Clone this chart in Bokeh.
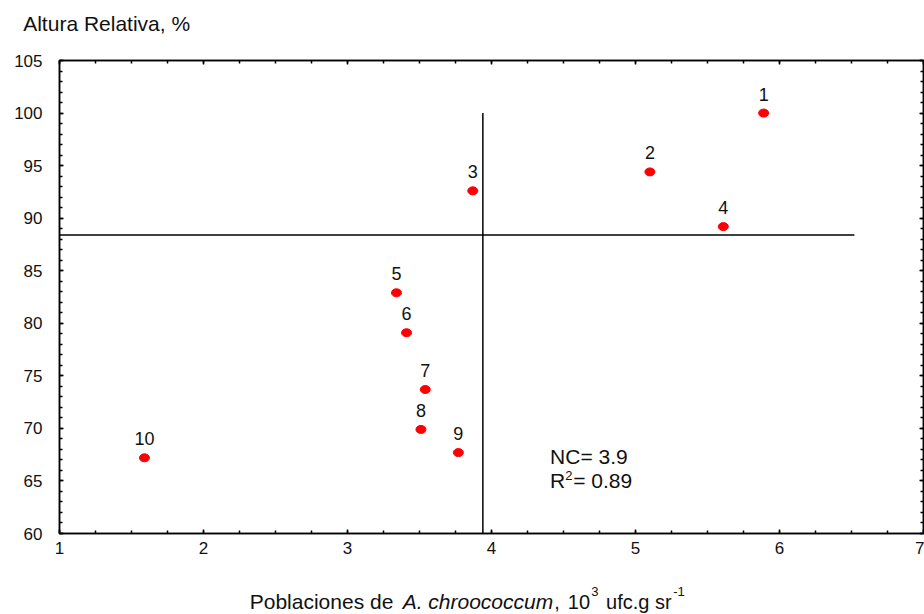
from bokeh.plotting import figure
from bokeh.layouts import column
from bokeh.models import LinearAxis, SingleIntervalTicker, Label, Range1d, ColumnDataSource
from bokeh.core.properties import value
from bokeh.embed import file_html
from bokeh.resources import INLINE

# ---- data ----
point_ids = ["1", "2", "3", "4", "5", "6", "7", "8", "9", "10"]
poblaciones = [5.89, 5.10, 3.87, 5.61, 3.34, 3.41, 3.54, 3.51, 3.77, 1.59]
altura = [100.0, 94.4, 92.6, 89.2, 82.9, 79.1, 73.7, 69.9, 67.7, 67.2]
nc_value = 3.94          # critical level (vertical line)
nc_line_top = 100.0
h_line_y = 88.4          # horizontal reference line
h_line_x_end = 6.52
x_range_vals = (1, 7)
y_range_vals = (60, 105)
y_title = "Altura Relativa, %"
nc_text = "NC= 3.9"
r2_text = "= 0.89"

FONT = "Liberation Sans"
TXT = "#111111"
W = 924
H_TOP, H_MAIN, H_BOT = 45, 523, 46
LEFT, RIGHT = 59, 1

# ---- title strip ----
tf = figure(width=W, height=H_TOP, x_range=Range1d(0, W), y_range=Range1d(0, H_TOP),
            output_backend="svg", toolbar_location=None, title_location=None,
            x_axis_location=None, y_axis_location=None,
            min_border_left=0, min_border_right=0, min_border_top=0, min_border_bottom=0)
tf.frame_align = False
tf.grid.visible = False
tf.outline_line_color = None
tf.text(x=[22.7], y=[H_TOP - 23], text=[y_title], text_align="left", text_baseline="middle",
        text_font=value(FONT), text_font_size="21px", text_color=TXT)

# ---- main plot ----
p = figure(width=W, height=H_MAIN, x_range=Range1d(*x_range_vals), y_range=Range1d(*y_range_vals),
           output_backend="svg", toolbar_location=None, title_location=None,
           min_border_left=LEFT, min_border_right=RIGHT, min_border_top=15, min_border_bottom=35)
p.grid.visible = False
p.outline_line_color = "black"
p.outline_line_width = 1.5

xt = SingleIntervalTicker(interval=1, num_minor_ticks=4)
yt = SingleIntervalTicker(interval=5, num_minor_ticks=5)

def style_axis(ax, labels=True):
    ax.axis_line_color = "black"
    ax.axis_line_width = 1.5
    ax.major_tick_in = 4
    ax.major_tick_out = 0
    ax.minor_tick_in = 3
    ax.minor_tick_out = 0
    ax.major_tick_line_color = "black"
    ax.minor_tick_line_color = "black"
    ax.major_tick_line_width = 1.5
    ax.minor_tick_line_width = 1.5
    if labels:
        ax.major_label_text_font = FONT
        ax.major_label_text_font_size = "17px"
        ax.major_label_text_color = TXT
    else:
        ax.major_label_text_font_size = "0px"
        ax.major_label_text_color = None
        ax.major_label_standoff = 0

p.xaxis.ticker = xt
p.yaxis.ticker = yt
style_axis(p.xaxis[0])
style_axis(p.yaxis[0])
p.xaxis.major_label_standoff = 8
p.yaxis.major_label_standoff = 17

top_ax = LinearAxis(ticker=xt)
style_axis(top_ax, labels=False)
p.add_layout(top_ax, "above")
right_ax = LinearAxis(ticker=yt)
style_axis(right_ax, labels=False)
p.add_layout(right_ax, "right")

# reference lines
p.segment(x0=[x_range_vals[0], nc_value], y0=[h_line_y, y_range_vals[0]],
          x1=[h_line_x_end, nc_value], y1=[h_line_y, nc_line_top],
          line_color="black", line_width=1.5)

src = ColumnDataSource(dict(x=poblaciones, y=altura, t=point_ids))
p.ellipse(x="x", y="y", width=10, height=8, width_units="screen", height_units="screen",
          fill_color="#ff0000", line_color="#ff0000", source=src)
p.text(x="x", y="y", text="t", source=src, text_align="center", text_baseline="middle",
       y_offset=-19, text_font=value(FONT), text_font_size="18px", text_color=TXT)

def lab(fig, x, y, text, size, style="normal"):
    fig.add_layout(Label(x=x, y=y, text=text, text_font=FONT, text_font_size=size,
                         text_font_style=style, text_align="left", text_baseline="middle",
                         text_color=TXT))

# NC / R2 annotation
lab(p, 4.407, 67.28, nc_text, "21px")
lab(p, 4.407, 65.0, "R", "21px")
lab(p, 4.512, 65.5, "2", "13px")
lab(p, 4.567, 65.0, r2_text, "21px")

# ---- x-axis title strip (mixed styles) ----
xl = figure(width=W, height=H_BOT, x_range=p.x_range, y_range=Range1d(0, H_BOT),
            output_backend="svg", toolbar_location=None, title_location=None,
            x_axis_location=None, y_axis_location=None,
            min_border_left=LEFT, min_border_right=RIGHT, min_border_top=0, min_border_bottom=0)
xl.grid.visible = False
xl.outline_line_color = None

ym, ys = H_BOT - 33.0, H_BOT - 22.5
pieces = [  # (x, y, text, size, style)
    (2.321, ym, "Poblaciones de", "21px", "normal"),
    (3.383, ym, "A. chroococcum", "21px", "italic"),
    (4.435, ym, ",", "20px", "normal"),
    (4.530, ym, "10", "20px", "normal"),
    (4.692, ys, "3", "13px", "normal"),
    (4.796, ym, "ufc.g sr", "20px", "normal"),
    (5.262, ys, "-1", "13px", "normal"),
]
for px, py, t, s, st in pieces:
    xl.text(x=[px], y=[py], text=[t], text_align="left", text_baseline="middle",
            text_font=value(FONT), text_font_size=s, text_font_style=st, text_color=TXT)

layout = column(tf, p, xl, spacing=0)
open("out.html", "w").write(file_html(layout, INLINE))
